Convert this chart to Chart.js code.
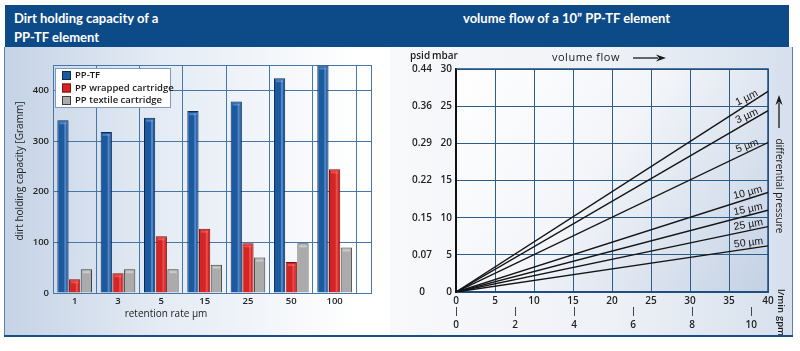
<!DOCTYPE html>
<html>
<head>
<meta charset="utf-8">
<script src="https://cdn.jsdelivr.net/npm/chart.js@4.4.1/dist/chart.umd.min.js"></script>
<style>
html,body{margin:0;padding:0;background:#ffffff;}
#wrap{position:relative;width:800px;height:351px;overflow:hidden;}
#header{position:absolute;left:5px;top:5px;width:784px;height:42px;background:#0d4b88;}
.ttl{position:absolute;color:#ffffff;font-family:Lato,"Open Sans",sans-serif;font-weight:700;font-size:13px;line-height:20px;white-space:nowrap;}
#panelL{position:absolute;left:5px;top:47px;width:385px;height:289px;background:linear-gradient(90deg,#c5d3e6 0%,#e4ebf4 40%,#ffffff 92%);}
#panelR{position:absolute;left:390px;top:47px;width:403px;height:289px;background:linear-gradient(90deg,#f8f9fb 0%,#eef1f6 55%,#d6e0ed 100%);}
#edgeL{position:absolute;left:4px;top:47px;width:1px;height:290px;background:#5d80aa;}
#edgeR{position:absolute;left:792px;top:47px;width:1px;height:290px;background:#5d80aa;}
#bottom{position:absolute;left:4px;top:335px;width:789px;height:2px;background:#1b4e86;}
#cL{position:absolute;left:5px;top:47px;}
#cR{position:absolute;left:390px;top:47px;}
</style>
</head>
<body>
<div id="wrap">
  <div id="panelL"></div>
  <div id="panelR"></div>
  <div id="edgeL"></div>
  <div id="edgeR"></div>
  <div id="bottom"></div>
  <div id="header">
    <div class="ttl" style="left:9px;top:3px">Dirt holding capacity of a</div>
    <div class="ttl" style="left:9px;top:22px">PP-TF element</div>
    <div class="ttl" style="left:458px;top:3px">volume flow of a 10” PP-TF element</div>
  </div>
  <canvas id="cL" width="380" height="288"></canvas>
  <canvas id="cR" width="402" height="288"></canvas>
</div>
<script>
// ---------- left chart data ----------
const categories = ['1', '3', '5', '15', '25', '50', '100'];
const seriesNames = ['PP-TF', 'PP wrapped cartridge', 'PP textile cartridge'];
const ppTF = [341, 318, 346, 359, 378, 424, 449];
const ppWrapped = [27, 39, 112, 127, 98, 61, 244];
const ppTextile = [47, 47, 47, 56, 70, 98, 90];
const capacityTicks = [0, 100, 200, 300, 400];
const leftYTitle = 'dirt holding capacity [Gramm]';
const leftXTitle = 'retention rate µm';

// ---------- right chart data ----------
const flowLmin = [0, 40];
const dp1 = [0, 27.0];
const dp3 = [0, 24.4];
const dp5 = [0, 20.1];
const dp10 = [0, 13.4];
const dp15 = [0, 11.0];
const dp25 = [0, 8.8];
const dp50 = [0, 6.2];
const retentionLabels = ['1 µm', '3 µm', '5 µm', '10 µm', '15 µm', '25 µm', '50 µm'];
const mbarTicks = [0, 5, 10, 15, 20, 25, 30];
const psidLabels = ['0', '0.07', '0.15', '0.22', '0.29', '0.36', '0.44'];
const gpmTicks = [0, 2, 4, 6, 8, 10];
const LMIN_PER_GPM = 3.785411784;

Chart.defaults.font.family = '"Open Sans", sans-serif';
Chart.defaults.color = '#222';

// ================= LEFT: bar chart =================
const barColors = ['#1c5aa0', '#d42424', '#ababab'];
const barBorders = ['#0c2b55', '#7e1212', '#3e3e3e'];
const barSeries = [ppTF, ppWrapped, ppTextile];

const leftDeco = {
  id: 'leftDeco',
  beforeDatasetsDraw(chart) {
    const {ctx, chartArea: a} = chart;
    ctx.save();
    ctx.strokeStyle = '#4677ab';
    ctx.lineWidth = 1;
    ctx.strokeRect(Math.round(a.left) + 0.5, Math.round(a.top) + 0.5, Math.round(a.right - a.left), Math.round(a.bottom - a.top));
    ctx.restore();
  },
  afterDatasetsDraw(chart) {
    const {ctx, chartArea: a} = chart;
    ctx.save();
    chart.data.datasets.forEach((ds, di) => {
      chart.getDatasetMeta(di).data.forEach(bar => {
        const l = bar.x - bar.width / 2;
        const h = bar.base - bar.y;
        if (di === 0) {
          ctx.fillStyle = 'rgba(120,165,225,0.6)';
          ctx.fillRect(l + bar.width * 0.62, bar.y + 2, bar.width * 0.18, h - 2);
          ctx.fillStyle = 'rgba(130,170,230,0.5)';
          ctx.fillRect(l + 2, bar.y + 2, bar.width - 4, 2);
        } else if (di === 1) {
          ctx.fillStyle = 'rgba(255,120,110,0.5)';
          ctx.fillRect(l + bar.width * 0.6, bar.y + 2, bar.width * 0.18, h - 2);
          ctx.fillRect(l + 2, bar.y + 2, bar.width - 4, 2);
        } else {
          ctx.fillStyle = 'rgba(225,225,225,0.6)';
          ctx.fillRect(l + 2, bar.y + 2, bar.width - 4, 2);
        }
      });
    });
    const bx = a.left + 2, by = a.top + 3, bw = 115, bh = 39;
    ctx.fillStyle = '#ffffff';
    ctx.fillRect(bx, by, bw, bh);
    ctx.strokeStyle = '#7f9abb';
    ctx.lineWidth = 1;
    ctx.strokeRect(Math.round(bx) + 0.5, Math.round(by) + 0.5, bw, bh);
    ctx.font = '600 9.5px "Open Sans", sans-serif';
    ctx.textBaseline = 'middle';
    chart.data.datasets.forEach((ds, i) => {
      const cy = by + 7.5 + i * 12.5;
      ctx.fillStyle = ds.backgroundColor;
      ctx.fillRect(bx + 7, cy - 4.5, 9, 9);
      ctx.strokeStyle = ds.borderColor;
      ctx.strokeRect(bx + 7.5, cy - 4, 8, 8);
      ctx.fillStyle = '#1a1a1a';
      ctx.fillText(ds.label, bx + 20, cy);
    });
    ctx.restore();
  },
  afterDraw(chart) {
    const {ctx, chartArea: a} = chart;
    ctx.save();
    ctx.fillStyle = '#222';
    ctx.font = '10px "Open Sans", sans-serif';
    ctx.textAlign = 'center';
    ctx.textBaseline = 'middle';
    ctx.fillText(leftXTitle, a.left + 113, a.bottom + 21);
    ctx.translate(15, a.top + 106);
    ctx.rotate(-Math.PI / 2);
    ctx.fillText(leftYTitle, 0, 0);
    ctx.restore();
  }
};

new Chart(document.getElementById('cL'), {
  type: 'bar',
  data: {
    datasets: barSeries.map((vals, i) => ({
      label: seriesNames[i],
      data: vals.map((v, j) => ({x: j + 0.5, y: v})),
      backgroundColor: barColors[i],
      borderColor: barBorders[i],
      borderWidth: 1,
      categoryPercentage: 0.81,
      barPercentage: 0.96
    }))
  },
  options: {
    responsive: false,
    animation: false,
    layout: {padding: {left: 5, right: 14, top: 18, bottom: 11}},
    plugins: {legend: {display: false}, tooltip: {enabled: false}},
    scales: {
      x: {
        type: 'linear',
        offset: false,
        min: 0,
        max: 7.34,
        afterBuildTicks: s => { s.ticks = categories.map((c, i) => ({value: i + 0.5})); },
        afterFit: s => { s.height = 31; },
        ticks: {
          callback: (v, i) => categories[i],
          font: {size: 9.5, weight: '600'},
          color: '#222',
          padding: 3,
          maxRotation: 0,
          autoSkip: false
        },
        grid: {offset: true, color: '#4677ab', drawTicks: false, lineWidth: 1},
        border: {color: '#4677ab'}
      },
      y: {
        min: 0,
        max: 450,
        afterBuildTicks: s => { s.ticks = capacityTicks.map(v => ({value: v})); },
        afterFit: s => { s.width = 43; },
        ticks: {font: {size: 9.5, weight: '600'}, color: '#222', padding: 4},
        grid: {color: '#4677ab', drawTicks: false, lineWidth: 1},
        border: {color: '#4677ab'}
      }
    }
  },
  plugins: [leftDeco]
});

// ================= RIGHT: line chart =================
const dpSeries = [dp1, dp3, dp5, dp10, dp15, dp25, dp50];
const LABEL_AT = 37.6;

function arrow(ctx, x1, y1, x2, y2) {
  const ang = Math.atan2(y2 - y1, x2 - x1);
  ctx.beginPath();
  ctx.moveTo(x1, y1);
  ctx.lineTo(x2 - 8 * Math.cos(ang), y2 - 8 * Math.sin(ang));
  ctx.stroke();
  ctx.beginPath();
  ctx.moveTo(x2, y2);
  ctx.lineTo(x2 - 10 * Math.cos(ang) + 3.5 * Math.sin(ang), y2 - 10 * Math.sin(ang) - 3.5 * Math.cos(ang));
  ctx.lineTo(x2 - 7 * Math.cos(ang), y2 - 7 * Math.sin(ang));
  ctx.lineTo(x2 - 10 * Math.cos(ang) - 3.5 * Math.sin(ang), y2 - 10 * Math.sin(ang) + 3.5 * Math.cos(ang));
  ctx.closePath();
  ctx.fill();
}

const rightDeco = {
  id: 'rightDeco',
  beforeDraw(chart) {
    const {ctx, chartArea: a} = chart;
    ctx.save();
    const g = ctx.createLinearGradient(a.left, a.top, a.right, a.bottom);
    g.addColorStop(0, '#ffffff');
    g.addColorStop(0.45, '#f3f5f9');
    g.addColorStop(1, '#c3d1e4');
    ctx.fillStyle = g;
    ctx.fillRect(a.left, a.top, a.right - a.left, a.bottom - a.top);
    ctx.restore();
  },
  beforeDatasetsDraw(chart) {
    const {ctx, chartArea: a} = chart;
    ctx.save();
    ctx.strokeStyle = '#1f4f80';
    ctx.lineWidth = 1.5;
    ctx.beginPath();
    ctx.moveTo(a.left, a.top);
    ctx.lineTo(a.right, a.top);
    ctx.lineTo(a.right, a.bottom);
    ctx.stroke();
    ctx.restore();
  },
  afterDatasetsDraw(chart) {
    const {ctx} = chart;
    const xs = chart.scales.x, ys = chart.scales.y;
    ctx.save();
    ctx.fillStyle = '#111';
    ctx.font = '10.5px "Liberation Sans Narrow", "Liberation Sans", sans-serif';
    ctx.textAlign = 'center';
    ctx.textBaseline = 'alphabetic';
    dpSeries.forEach((d, i) => {
      const x0 = xs.getPixelForValue(flowLmin[0]), x1 = xs.getPixelForValue(flowLmin[1]);
      const y0 = ys.getPixelForValue(d[0]), y1 = ys.getPixelForValue(d[1]);
      const ang = Math.atan2(y1 - y0, x1 - x0);
      const t = (LABEL_AT - flowLmin[0]) / (flowLmin[1] - flowLmin[0]);
      const px = x0 + (x1 - x0) * t, py = y0 + (y1 - y0) * t;
      ctx.save();
      ctx.translate(px, py);
      ctx.rotate(ang * 0.8);
      ctx.fillText(retentionLabels[i], 0, -3);
      ctx.restore();
    });
    ctx.restore();
  },
  afterDraw(chart) {
    const {ctx} = chart;
    ctx.save();
    ctx.fillStyle = '#1a1a1a';
    ctx.strokeStyle = '#1a1a1a';
    ctx.lineWidth = 1.3;
    ctx.textBaseline = 'middle';
    ctx.font = '600 10px "Open Sans", sans-serif';
    ctx.textAlign = 'left';
    ctx.fillText('psid', 20, 9);
    ctx.fillText('mbar', 42, 9);
    ctx.font = '11px "Open Sans", sans-serif';
    ctx.letterSpacing = '0.5px';
    ctx.fillText('volume flow', 162, 11);
    ctx.letterSpacing = '0px';
    arrow(ctx, 243, 11, 276, 11);
    arrow(ctx, 389, 81, 389, 48);
    ctx.save();
    ctx.translate(389, 139);
    ctx.rotate(Math.PI / 2);
    ctx.textAlign = 'center';
    ctx.font = '10px "Open Sans", sans-serif';
    ctx.fillText('differential pressure', 0, 0);
    ctx.restore();
    ctx.font = '600 9.5px "Open Sans", sans-serif';
    ctx.textAlign = 'center';
    ctx.save();
    ctx.translate(391, 254);
    ctx.rotate(Math.PI / 2);
    ctx.fillText('l/min', 0, 0);
    ctx.restore();
    ctx.save();
    ctx.translate(391, 279);
    ctx.rotate(Math.PI / 2);
    ctx.fillText('gpm', 0, 0);
    ctx.restore();
    ctx.restore();
  }
};

new Chart(document.getElementById('cR'), {
  type: 'line',
  data: {
    datasets: dpSeries.map((d, i) => ({
      label: retentionLabels[i],
      data: flowLmin.map((f, j) => ({x: f, y: d[j]})),
      borderColor: '#141414',
      borderWidth: 1.4,
      pointRadius: 0,
      fill: false,
      xAxisID: 'x',
      yAxisID: 'y'
    }))
  },
  options: {
    responsive: false,
    animation: false,
    layout: {padding: {left: 18, right: 24, top: 22, bottom: 2}},
    plugins: {legend: {display: false}, tooltip: {enabled: false}},
    scales: {
      x: {
        type: 'linear', position: 'bottom', weight: 0,
        min: 0, max: 40,
        ticks: {stepSize: 5, font: {size: 10, weight: '600'}, color: '#222', padding: 3, maxRotation: 0},
        afterFit: s => { s.height = 15; },
        grid: {color: '#2b5d88', drawTicks: false, lineWidth: 1},
        border: {color: '#1f4f80', width: 2}
      },
      xg: {
        type: 'linear', position: 'bottom', weight: 1,
        min: 0, max: 40 / LMIN_PER_GPM,
        afterBuildTicks: s => { s.ticks = gpmTicks.map(v => ({value: v})); },
        afterFit: s => { s.height = 26; },
        ticks: {font: {size: 10, weight: '600'}, color: '#222', padding: 3, maxRotation: 0},
        grid: {display: true, drawOnChartArea: false, drawTicks: true, tickLength: 9, tickColor: '#444', tickWidth: 1},
        border: {display: false}
      },
      y: {
        type: 'linear', position: 'left', weight: 0,
        min: 0, max: 30,
        afterBuildTicks: s => { s.ticks = mbarTicks.map(v => ({value: v})); },
        afterFit: s => { s.width = 20; },
        ticks: {font: {size: 10, weight: '600'}, color: '#222', padding: 4},
        grid: {color: '#2b5d88', drawTicks: false, lineWidth: 1},
        border: {color: '#111111', width: 2}
      },
      yp: {
        type: 'linear', position: 'left', weight: 1,
        min: 0, max: 30,
        afterBuildTicks: s => { s.ticks = mbarTicks.map(v => ({value: v})); },
        afterFit: s => { s.width = 28; },
        ticks: {callback: (v, i) => psidLabels[i], font: {size: 10, weight: '600'}, color: '#222', padding: 4, crossAlign: 'center'},
        grid: {display: false, drawTicks: false},
        border: {display: false}
      }
    }
  },
  plugins: [rightDeco]
});
</script>
</body>
</html>
